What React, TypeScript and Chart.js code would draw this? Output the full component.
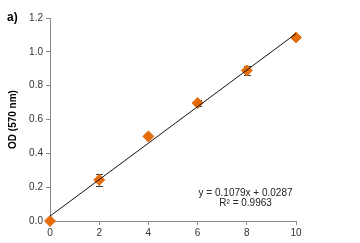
import React, { useEffect, useRef } from "react";
import { Chart, registerables } from "chart.js";

Chart.register(...registerables);

const xValues = [0, 2, 4, 6, 8, 10];
const odValues = [0.0, 0.243, 0.5, 0.697, 0.89, 1.085];
const odErrors = [0, 0.035, 0, 0.02, 0.025, 0];
const trendX = [0, 10];
const trendY = [0.0287, 1.1077];
const yTicks = [0, 0.2, 0.4, 0.6, 0.8, 1.0, 1.2];
const xTicks = [0, 2, 4, 6, 8, 10];
const equationLines = ["y = 0.1079x + 0.0287", "R² = 0.9963"];
const panelLabel = "a)";
const yTitle = "OD (570 nm)";

const FONT = "'Liberation Sans', Arial, sans-serif";

const errorBarPlugin = {
  id: "errorBars",
  beforeDatasetsDraw(chart: any) {
    const { ctx, scales } = chart;
    const xs = scales.x;
    const ys = scales.y;
    ctx.save();
    ctx.strokeStyle = "#3a3a3a";
    ctx.lineWidth = 1;
    xValues.forEach((xv, i) => {
      const e = odErrors[i];
      if (!e) return;
      const px = Math.round(xs.getPixelForValue(xv)) + 0.5;
      const top = ys.getPixelForValue(odValues[i] + e);
      const bot = ys.getPixelForValue(odValues[i] - e);
      ctx.beginPath();
      ctx.moveTo(px, top);
      ctx.lineTo(px, bot);
      ctx.moveTo(px - 3.5, Math.round(top) + 0.5);
      ctx.lineTo(px + 3.5, Math.round(top) + 0.5);
      ctx.moveTo(px - 3.5, Math.round(bot) + 0.5);
      ctx.lineTo(px + 3.5, Math.round(bot) + 0.5);
      ctx.stroke();
    });
    ctx.restore();
  },
};

const textPlugin = {
  id: "texts",
  afterDraw(chart: any) {
    const { ctx, scales } = chart;
    ctx.save();
    ctx.fillStyle = "#000";
    ctx.font = `bold 12px ${FONT}`;
    ctx.textAlign = "left";
    ctx.textBaseline = "middle";
    ctx.fillText(panelLabel, 7, 18);
    ctx.fillStyle = "#222";
    ctx.font = `10px ${FONT}`;
    ctx.textAlign = "center";
    const cx = scales.x.getPixelForValue(7.95);
    const y0 = scales.y.getPixelForValue(0.165);
    ctx.fillText(equationLines[0], cx, y0);
    ctx.fillText(equationLines[1], cx, y0 + 10.5);
    ctx.restore();
  },
};

export default function App() {
  const ref = useRef<HTMLCanvasElement>(null);
  useEffect(() => {
    if (!ref.current) return;
    const chart = new Chart(ref.current, {
      type: "scatter",
      data: {
        datasets: [
          {
            type: "line",
            label: "trend",
            data: trendX.map((x, i) => ({ x, y: trendY[i] })),
            borderColor: "#111",
            borderWidth: 1,
            pointRadius: 0,
            fill: false,
            clip: false,
          },
          {
            label: "OD",
            data: xValues.map((x, i) => ({ x, y: odValues[i] })),
            pointStyle: "rectRot",
            pointRadius: 5.5,
            backgroundColor: "#E46C0A",
            borderColor: "#E46C0A",
            borderWidth: 1,
            clip: false,
          },
        ],
      },
      options: {
        animation: false,
        responsive: false,
        devicePixelRatio: 1,
        layout: { padding: { left: 0, right: 64, top: 18, bottom: 0 } },
        plugins: { legend: { display: false }, tooltip: { enabled: false } },
        scales: {
          x: {
            type: "linear",
            min: 0,
            max: 10,
            afterBuildTicks: (s: any) => {
              s.ticks = xTicks.map((v) => ({ value: v }));
            },
            afterFit: (s: any) => {
              s.height = 22;
            },
            grid: { display: true, drawOnChartArea: false, drawTicks: true, tickLength: 4, color: "#8a8a8a" },
            border: { color: "#8a8a8a" },
            ticks: { color: "#333", font: { family: FONT, size: 10 }, padding: 2 },
          },
          y: {
            type: "linear",
            min: 0,
            max: 1.2,
            afterBuildTicks: (s: any) => {
              s.ticks = yTicks.map((v) => ({ value: v }));
            },
            afterFit: (s: any) => {
              s.width = 50;
            },
            grid: { display: true, drawOnChartArea: false, drawTicks: true, tickLength: 4, color: "#8a8a8a" },
            border: { color: "#8a8a8a" },
            ticks: {
              color: "#333",
              font: { family: FONT, size: 10 },
              padding: 3,
              callback: (v: any) => Number(v).toFixed(1),
            },
            title: {
              display: true,
              text: yTitle,
              color: "#000",
              font: { family: FONT, size: 10, weight: "bold" },
              padding: { top: 7, bottom: 0 },
            },
          },
        },
      },
      plugins: [errorBarPlugin, textPlugin],
    } as any);
    return () => chart.destroy();
  }, []);
  return (
    <div style={{ position: "fixed", left: 0, top: 0, width: 360, height: 243, background: "#fff" }}>
      <canvas ref={ref} width={360} height={243} style={{ display: "block" }} />
    </div>
  );
}
